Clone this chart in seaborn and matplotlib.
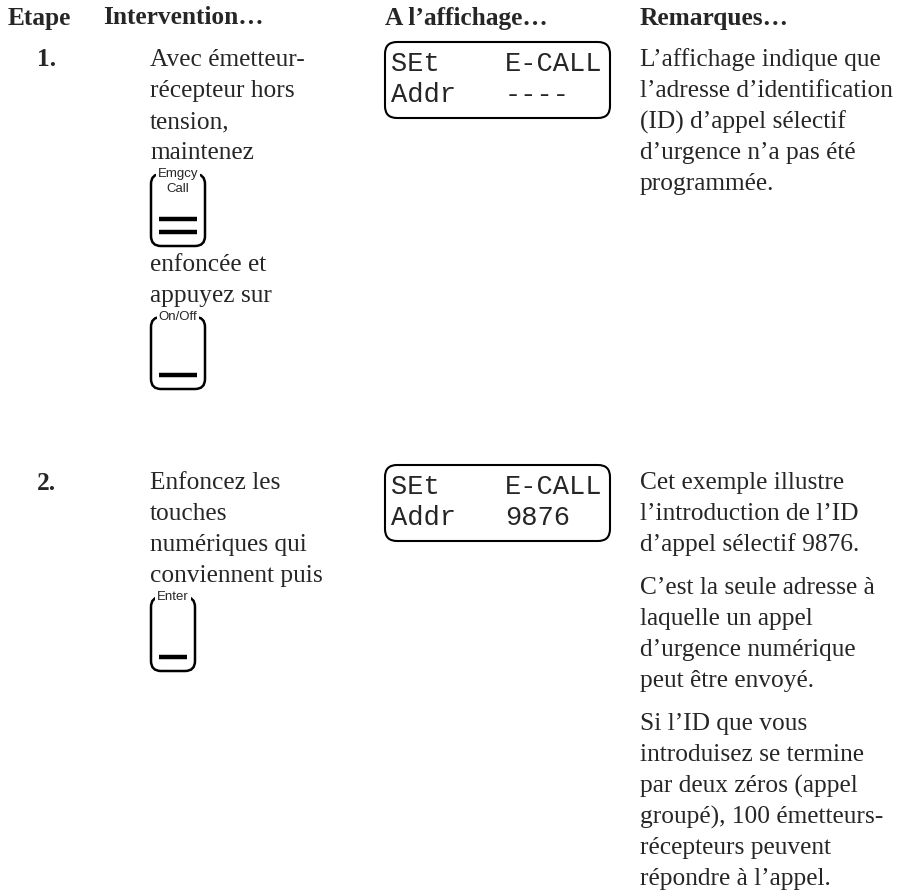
import matplotlib
matplotlib.use('Agg')
import matplotlib.pyplot as plt
import seaborn as sns
from matplotlib.patches import FancyBboxPatch

sns.set_style('white')
plt.rcParams['font.family'] = ['Liberation Serif', 'DejaVu Serif']

# page content
headers = ['Etape', 'Intervention…', 'A l’affichage…', 'Remarques…']
steps = ['1.', '2.']

step1_text_a = ['Avec émetteur-', 'récepteur hors', 'tension,', 'maintenez']
step1_text_b = ['enfoncée et', 'appuyez sur']
step2_text = ['Enfoncez les', 'touches', 'numériques qui', 'conviennent puis']

buttons_step1 = [('Emgcy', 'Call', 2), ('On/Off', '', 1)]
buttons_step2 = [('Enter', '', 1)]

lcd_step1 = [('SEt', 'E-CALL'), ('Addr', '----')]
lcd_step2 = [('SEt', 'E-CALL'), ('Addr', '9876')]

notes_step1 = [['L’affichage indique que', 'l’adresse d’identification',
                '(ID) d’appel sélectif', 'd’urgence n’a pas été', 'programmée.']]
notes_step2 = [['Cet exemple illustre', 'l’introduction de l’ID',
                'd’appel sélectif 9876.'],
               ['C’est la seule adresse à', 'laquelle un appel',
                'd’urgence numérique', 'peut être envoyé.'],
               ['Si l’ID que vous', 'introduisez se termine',
                'par deux zéros (appel', 'groupé), 100 émetteurs-',
                'récepteurs peuvent', 'répondre à l’appel.']]

W, H = 898, 896
fig = plt.figure(figsize=(W / 100, H / 100), dpi=100)
ax = fig.add_axes([0, 0, 1, 1])
ax.set_xlim(0, W)
ax.set_ylim(H, 0)
ax.axis('off')

FS = 18.3
LH = 31
col_x = [8, 103, 385, 640]
txt_x = 150


def draw_button(top, label, sub, bars, width=54, height=72):
    left = txt_x + 1
    box = FancyBboxPatch((left, top), width, height,
                         boxstyle='round,pad=0,rounding_size=10',
                         fill=False, ec='black', lw=1.8, zorder=2)
    ax.add_patch(box)
    cx = left + width / 2
    ax.text(cx, top, label, family='Liberation Sans', fontsize=9.5,
            ha='center', va='center', zorder=3,
            bbox=dict(fc='white', ec='none', pad=1.5))
    if sub:
        ax.text(cx, top + 15, sub, family='Liberation Sans', fontsize=9.5,
                ha='center', va='center', zorder=3)
    for i in range(bars):
        yb = top + height - 14 - (bars - 1 - i) * 13
        ax.plot([left + 8, left + width - 8], [yb, yb], color='black',
                lw=3.2, solid_capstyle='butt', zorder=3)
    return top + height


def draw_lcd(top, rows, height=76):
    box = FancyBboxPatch((385, top), 225, height,
                         boxstyle='round,pad=0,rounding_size=12',
                         fill=False, ec='black', lw=1.5, zorder=2)
    ax.add_patch(box)
    for i, (a, b) in enumerate(rows):
        yy = top + 22 + i * 31
        ax.text(391, yy, a, family='Liberation Mono', fontsize=19.5,
                ha='left', va='center')
        ax.text(505, yy, b, family='Liberation Mono', fontsize=19.5,
                ha='left', va='center')


def draw_lines(x, y, lines):
    for ln in lines:
        ax.text(x, y, ln, fontsize=FS, ha='left', va='center')
        y += LH
    return y


# headers
for x, h in zip(col_x, headers):
    ax.text(x, 18, h, fontsize=FS, fontweight='bold', ha='left', va='center')

# step 1
y1 = 60
ax.text(37, y1, steps[0], fontsize=FS, fontweight='bold', ha='left', va='center')
y = draw_lines(txt_x, y1, step1_text_a)
bottom = draw_button(y - 10, *buttons_step1[0])
y = draw_lines(txt_x, bottom + 19, step1_text_b)
draw_button(y - 10, *buttons_step1[1])
draw_lcd(y1 - 18, lcd_step1)
yy = y1
for para in notes_step1:
    yy = draw_lines(col_x[3], yy, para) + 12

# step 2
y2 = 483
ax.text(37, y2, steps[1], fontsize=FS, fontweight='bold', ha='left', va='center')
y = draw_lines(txt_x, y2, step2_text)
draw_button(y - 10, *buttons_step2[0], width=44, height=74)
draw_lcd(y2 - 18, lcd_step2)
yy = y2
for para in notes_step2:
    yy = draw_lines(col_x[3], yy, para) + 12

fig.savefig('out.png', dpi=100, facecolor='white')
